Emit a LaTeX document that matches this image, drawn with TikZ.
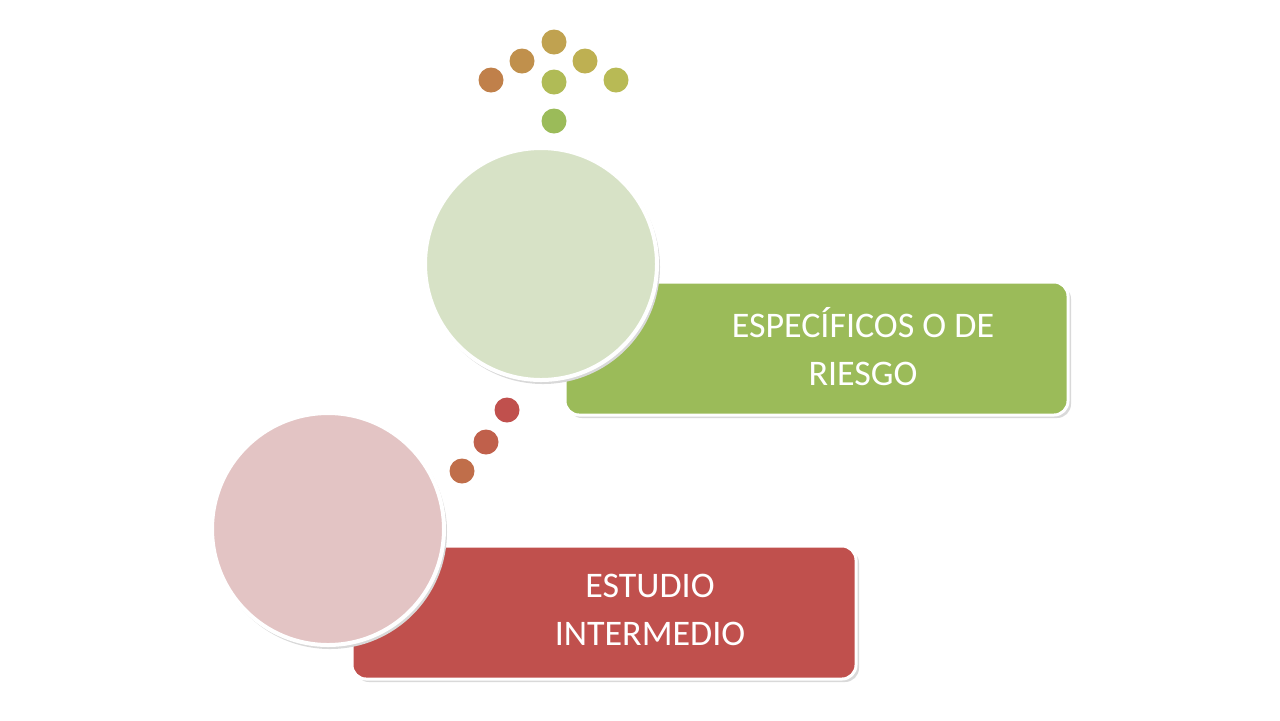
\documentclass[tikz,border=0pt]{standalone}
\usepackage{fontspec}
\setmainfont{Carlito}
\begin{document}
\begin{tikzpicture}[x=0.5pt,y=-0.5pt,
  bar/.style={rounded corners=7pt,draw=white,line width=1.5pt},
  disc/.style={circle,draw=white,line width=2pt,minimum size=116pt,inner sep=0pt},
  dot/.style={circle,inner sep=0pt,minimum size=12.5pt},
  lbl/.style={text=white,font=\fontsize{18}{24}\selectfont,align=center}]
\useasboundingbox (0,0) rectangle (1280,720);
\definecolor{gr}{HTML}{9BBB59}\definecolor{rd}{HTML}{C0504D}
\definecolor{grl}{HTML}{D7E2C6}\definecolor{rdl}{HTML}{E3C4C4}
% green bar
\fill[black!15,rounded corners=7pt] (568,285) rectangle (1071,418);
\draw[bar,fill=gr] (565,282) rectangle (1068,415);
\node[lbl] (gt) at (863,347) {ESPECÍFICOS O DE\\RIESGO};
\fill[black!15] (543,267) circle (117);
\node[disc,fill=grl] (gc) at (541,264) {};
% red bar
\fill[black!15,rounded corners=7pt] (355,549) rectangle (859,682);
\draw[bar,fill=rd] (352,546) rectangle (856,679);
\node[lbl] (rt) at (650,610) {ESTUDIO\\INTERMEDIO};
\fill[black!15] (330,532) circle (117);
\node[disc,fill=rdl] (rc) at (328,529) {};
% red dots
\node[dot,fill=rd] (d1) at (507,410) {};
\node[dot,fill={rgb,255:red,192;green,96;blue,75}] (d2) at (486,442) {};
\node[dot,fill={rgb,255:red,192;green,110;blue,74}] (d3) at (462,471) {};
% top dots
\node[dot,fill={rgb,255:red,192;green,128;blue,74}] (t1) at (491,80) {};
\node[dot,fill={rgb,255:red,192;green,144;blue,76}] (t2) at (522,61) {};
\node[dot,fill={rgb,255:red,192;green,162;blue,80}] (t3) at (554,42) {};
\node[dot,fill={rgb,255:red,190;green,176;blue,82}] (t4) at (585,61) {};
\node[dot,fill={rgb,255:red,184;green,186;blue,85}] (t5) at (616,80) {};
\node[dot,fill={rgb,255:red,176;green,187;blue,86}] (t6) at (554,82) {};
\node[dot,fill=gr] (t7) at (554,121) {};
\end{tikzpicture}
\end{document}
